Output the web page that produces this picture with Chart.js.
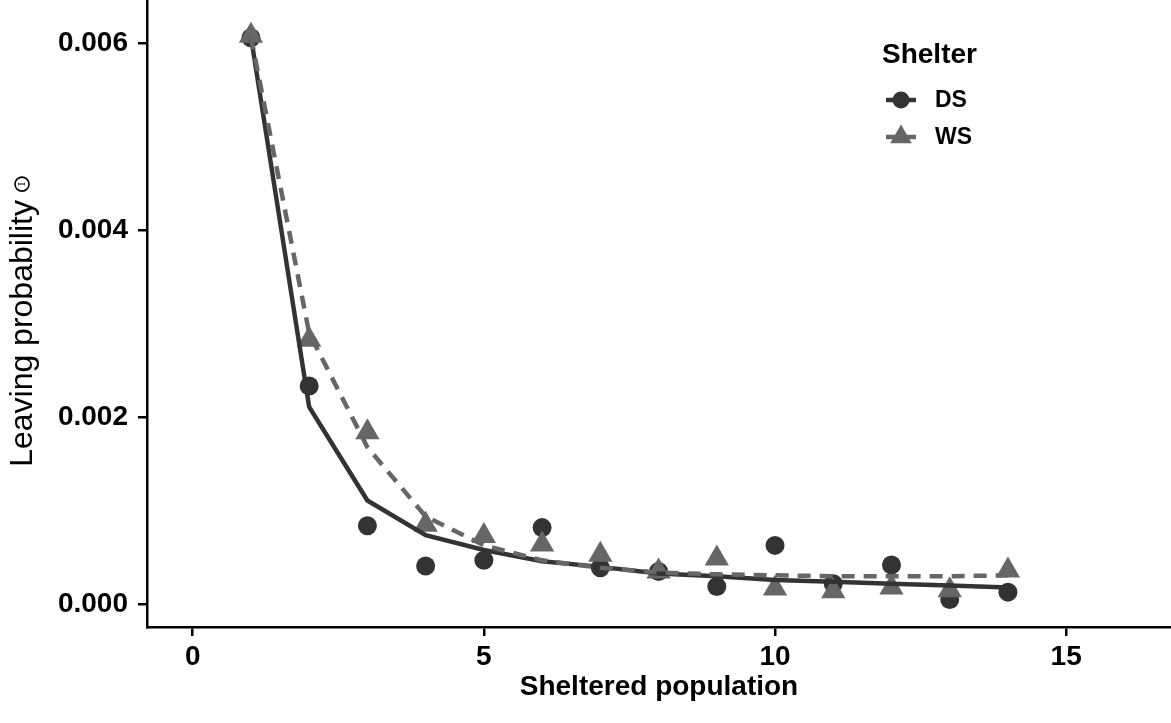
<!DOCTYPE html>
<html>
<head>
<meta charset="utf-8">
<script src="https://cdn.jsdelivr.net/npm/chart.js@4.4.1/dist/chart.umd.min.js"></script>
<style>
  html, body { margin: 0; padding: 0; background: #ffffff; }
  #wrap { width: 1171px; height: 723px; position: relative; }
</style>
</head>
<body>
<div id="wrap"><canvas id="c" width="1171" height="723"></canvas></div>
<script>
// ---- data ----
const population = [1, 2, 3, 4, 5, 6, 7, 8, 9, 10, 11, 12, 13, 14];
const dsObserved = [0.00606, 0.002335, 0.00084, 0.00041, 0.00047, 0.00082, 0.00039, 0.00035, 0.00019, 0.00063, 0.00022, 0.00042, 0.00005, 0.00013];
const wsObserved = [0.00608, 0.00283, 0.00184, 0.00085, 0.00073, 0.00064, 0.00053, 0.00035, 0.00049, 0.00017, 0.00014, 0.00018, 0.00015, 0.00036];
const dsFitted = [0.00607, 0.00211, 0.00111, 0.00074, 0.00058, 0.00046, 0.00040, 0.00033, 0.00030, 0.00026, 0.00024, 0.00022, 0.00020, 0.00018];
const wsFitted = [0.00607, 0.00290, 0.00168, 0.00094, 0.00063, 0.00047, 0.00039, 0.00034, 0.00032, 0.00031, 0.00030, 0.00030, 0.00030, 0.00031];
const xTicks = [0, 5, 10, 15];
const yTicks = [0, 0.002, 0.004, 0.006];
const seriesNames = ['DS', 'WS'];
const legendTitle = 'Shelter';
const xTitle = 'Sheltered population';
const yTitle = 'Leaving probability';
const yTitleSymbol = 'I';

const DS_COLOR = '#333333';
const WS_COLOR = '#666666';
const FONT = '"Liberation Sans", Arial, Helvetica, sans-serif';

const toXY = (ys) => population.map((x, i) => ({ x: x, y: ys[i] }));

const zeroPad = (s) => { s.paddingTop = 0; s.paddingBottom = 0; s.paddingLeft = 0; s.paddingRight = 0; };

const overlayPlugin = {
  id: 'overlay',
  afterDraw(chart) {
    const ctx = chart.ctx;
    const area = chart.chartArea;
    ctx.save();
    // x axis title
    ctx.fillStyle = '#000';
    ctx.font = 'bold 28px ' + FONT;
    ctx.textAlign = 'center';
    ctx.textBaseline = 'alphabetic';
    ctx.fillText(xTitle, (area.left + area.right) / 2, 695);

    // y axis title (rotated)
    ctx.save();
    ctx.translate(32, 322);
    ctx.rotate(-Math.PI / 2);
    ctx.font = '32px ' + FONT;
    const w1 = ctx.measureText(yTitle + ' ').width;
    const w2 = 14;
    const total = w1 + w2;
    ctx.textAlign = 'left';
    ctx.fillText(yTitle + ' ', -total / 2, 0);
    // circled symbol
    const cx = -total / 2 + w1 + 7;
    ctx.font = '10px "DejaVu Serif", serif';
    ctx.textAlign = 'center';
    ctx.textBaseline = 'middle';
    ctx.fillText(yTitleSymbol, cx, -10);
    ctx.beginPath();
    ctx.lineWidth = 1.6;
    ctx.strokeStyle = '#000';
    ctx.arc(cx, -10, 7, 0, Math.PI * 2);
    ctx.stroke();
    ctx.restore();

    // legend
    ctx.textAlign = 'left';
    ctx.textBaseline = 'alphabetic';
    ctx.fillStyle = '#000';
    ctx.font = 'bold 28px ' + FONT;
    ctx.fillText(legendTitle, 882, 63);
    const keys = [
      { name: seriesNames[0], color: DS_COLOR, shape: 'circle', y: 100 },
      { name: seriesNames[1], color: WS_COLOR, shape: 'triangle', y: 137 }
    ];
    keys.forEach(k => {
      ctx.strokeStyle = k.color;
      ctx.fillStyle = k.color;
      ctx.lineWidth = 4.5;
      ctx.beginPath();
      ctx.moveTo(886, k.y);
      ctx.lineTo(916, k.y);
      ctx.stroke();
      ctx.beginPath();
      if (k.shape === 'circle') {
        ctx.arc(901, k.y, 8.5, 0, Math.PI * 2);
      } else {
        const r = 12.5;
        ctx.moveTo(901, k.y - r);
        ctx.lineTo(901 + r * Math.sin(2 * Math.PI / 3), k.y + r * 0.5);
        ctx.lineTo(901 - r * Math.sin(2 * Math.PI / 3), k.y + r * 0.5);
        ctx.closePath();
      }
      ctx.fill();
      ctx.fillStyle = '#000';
      ctx.font = 'bold 23px ' + FONT;
      ctx.textBaseline = 'middle';
      ctx.fillText(k.name, 935, k.y + 1);
      ctx.textBaseline = 'alphabetic';
    });
    ctx.restore();
  }
};

new Chart(document.getElementById('c'), {
  type: 'line',
  data: {
    datasets: [
      {
        label: seriesNames[1] + ' fit',
        data: toXY(wsFitted),
        borderColor: WS_COLOR,
        borderWidth: 4.5,
        borderDash: [13, 9],
        pointRadius: 0,
        fill: false,
        tension: 0,
        order: 0
      },
      {
        label: seriesNames[0] + ' fit',
        data: toXY(dsFitted),
        borderColor: DS_COLOR,
        borderWidth: 4.5,
        pointRadius: 0,
        fill: false,
        tension: 0,
        order: 1
      },
      {
        label: seriesNames[1],
        data: toXY(wsObserved),
        showLine: false,
        pointStyle: 'triangle',
        pointRadius: 14,
        pointBackgroundColor: WS_COLOR,
        pointBorderColor: WS_COLOR,
        pointBorderWidth: 0,
        order: 2
      },
      {
        label: seriesNames[0],
        data: toXY(dsObserved),
        showLine: false,
        pointStyle: 'circle',
        pointRadius: 9.5,
        pointBackgroundColor: DS_COLOR,
        pointBorderColor: DS_COLOR,
        pointBorderWidth: 0,
        order: 3
      }
    ]
  },
  options: {
    responsive: false,
    animation: false,
    events: [],
    layout: { padding: 0, autoPadding: false },
    plugins: {
      legend: { display: false },
      tooltip: { enabled: false },
      title: { display: false }
    },
    scales: {
      x: {
        type: 'linear',
        min: -0.785,
        max: 16.8,
        afterBuildTicks: (s) => { s.ticks = xTicks.map(v => ({ value: v })); },
        afterFit: (s) => { s.height = 96; zeroPad(s); },
        border: { display: true, color: '#000', width: 2.5 },
        grid: { display: true, drawOnChartArea: false, drawTicks: true, tickLength: 9, color: '#000', lineWidth: 2.5 },
        ticks: {
          color: '#000',
          font: { family: FONT, size: 28, weight: 'bold' },
          padding: 4,
          maxRotation: 0,
          autoSkip: false,
          callback: (v) => String(v)
        }
      },
      y: {
        type: 'linear',
        min: -0.000243,
        max: 0.006463,
        afterBuildTicks: (s) => { s.ticks = yTicks.map(v => ({ value: v })); },
        afterFit: (s) => { s.width = 147; zeroPad(s); },
        border: { display: true, color: '#000', width: 2.5 },
        grid: { display: true, drawOnChartArea: false, drawTicks: true, tickLength: 9, color: '#000', lineWidth: 2.5 },
        ticks: {
          color: '#000',
          font: { family: FONT, size: 28, weight: 'bold' },
          padding: 10,
          autoSkip: false,
          callback: (v) => Number(v).toFixed(3)
        }
      }
    }
  },
  plugins: [overlayPlugin]
});
</script>
</body>
</html>
